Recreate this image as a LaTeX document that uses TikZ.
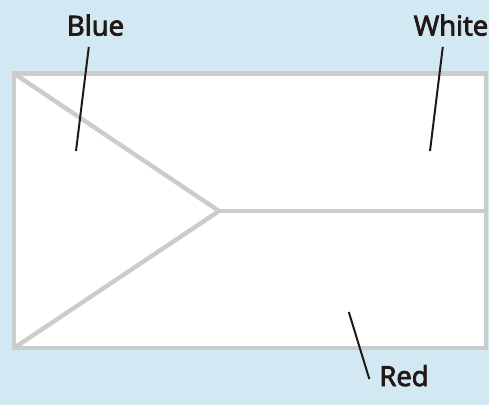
\documentclass[tikz,border=0pt]{standalone}
\usepackage{fontspec}
\setmainfont{Open Sans}
\newfontfamily\labfont{Open Sans}[FakeBold=3]
\definecolor{skybg}{HTML}{D2E9F4}
\definecolor{flagline}{HTML}{CCCCCC}
\definecolor{ink}{HTML}{231815}
\tikzset{
  flagedge/.style={draw=flagline,line width=4.4pt,line join=miter},
  leader/.style={draw=ink,line width=2pt},
  lab/.style={text=ink,inner sep=0pt,anchor=base,font=\labfont\fontsize{27.5}{27.5}\selectfont}
}
\begin{document}
\begin{tikzpicture}[x=1pt,y=-1pt]
\useasboundingbox (0,0) rectangle (489,405);
\fill[skybg] (0,0) rectangle (489,405);
\coordinate (tl) at (14,73.5);
\coordinate (tr) at (486,73.5);
\coordinate (br) at (486,348);
\coordinate (bl) at (14,348);
\coordinate (apex) at (219,211);
\coordinate (mid) at (486,211);
\path[fill=white,flagedge] (tl) -- (tr) -- (br) -- (bl) -- cycle;
\draw[flagedge] (tl) -- (apex) -- (bl);
\draw[flagedge] (apex) -- (mid);
\node[lab] (blue) at (95.5,35.5) {Blue};
\node[lab] (white) at (451,35.5) {White};
\node[lab] (red) at (404,386) {Red};
\coordinate (bluetop) at (88.8,47);
\coordinate (blueend) at (76,151);
\coordinate (whitetop) at (442.8,47);
\coordinate (whiteend) at (430,151);
\coordinate (redtop) at (369.3,379);
\coordinate (redend) at (348.8,312);
\draw[leader] (bluetop) -- (blueend);
\draw[leader] (whitetop) -- (whiteend);
\draw[leader] (redtop) -- (redend);
\end{tikzpicture}
\end{document}
